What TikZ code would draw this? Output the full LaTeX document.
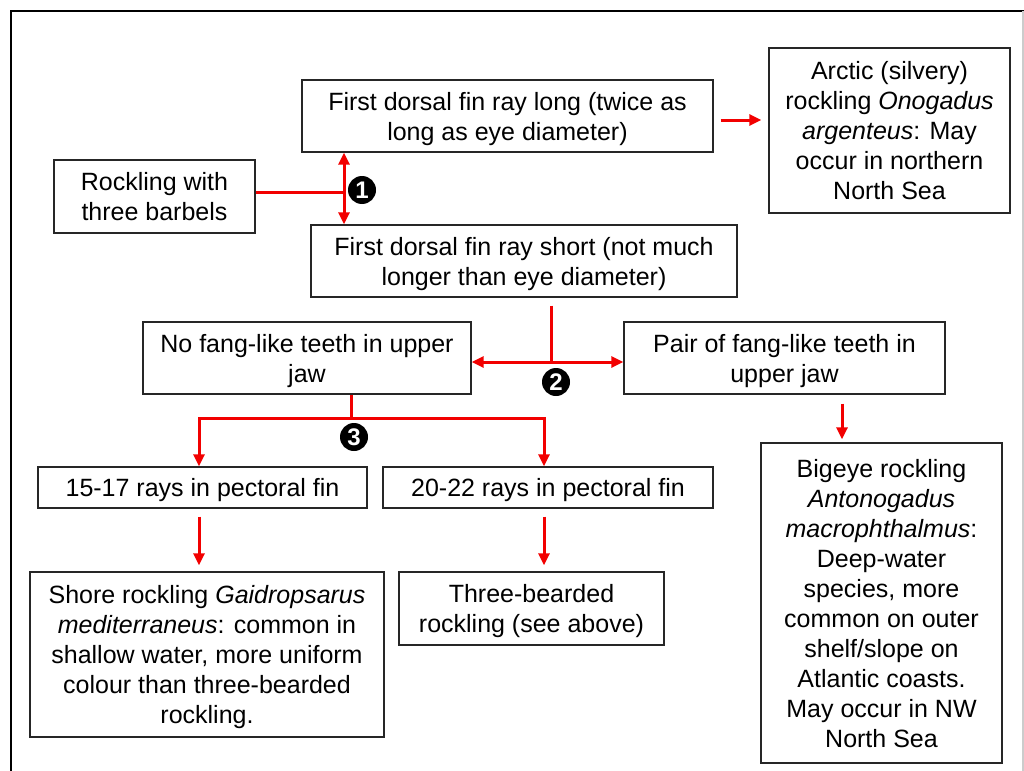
\documentclass[tikz,border=0pt]{standalone}
\usepackage{fontspec}
\setmainfont{Liberation Sans}
\usetikzlibrary{arrows.meta}

\begin{document}
\begin{tikzpicture}[x=0.5pt,y=-0.5pt,
  box/.style={draw=black!85, line width=0.7pt, align=center, inner sep=0pt, text depth=0pt, font=\fontsize{12.5}{15}\selectfont},
  link/.style={draw=red!95!black, line width=1.5pt},
  arr/.style={link, -{Triangle[length=6pt,width=5.5pt]}},
  arrboth/.style={link, {Triangle[length=6pt,width=5.5pt]}-{Triangle[length=6pt,width=5.5pt]}},
  badge/.style={circle, fill=black, text=white, inner sep=0pt, minimum size=14pt, font=\bfseries\fontsize{12}{12}\selectfont}]
\useasboundingbox (0,0) rectangle (1024,771);
% frame
\draw[line width=0.9pt] (11,771) -- (11,11) -- (1024,11);
\draw[black!20, line width=0.6pt] (1023,11) -- (1023,771);
% boxes
\node[box, minimum width=100.5pt, minimum height=36.5pt] (barbels) at (154.5,196.5){Rockling with\\three barbels};
\node[box, minimum width=205.5pt, minimum height=36pt] (longray) at (507.5,116){First dorsal fin ray long (twice as\\long as eye diameter)};
\node[box, minimum width=120.5pt, minimum height=82.5pt] (arctic) at (889.5,130.5){Arctic (silvery)\\rockling \textit{Onogadus}\\\textit{argenteus}: May\\occur in northern\\North Sea};
\node[box, minimum width=213pt, minimum height=36pt] (shortray) at (524,261){First dorsal fin ray short (not much\\longer than eye diameter)};
\node[box, minimum width=164pt, minimum height=36pt] (nofang) at (307,358){No fang-like teeth in upper\\jaw};
\node[box, minimum width=160.5pt, minimum height=36pt] (fang) at (784.5,358){Pair of fang-like teeth in\\upper jaw};
\node[box, minimum width=164.5pt, minimum height=20.5pt] (rays1517) at (202.5,487.5){15-17 rays in pectoral fin};
\node[box, minimum width=165pt, minimum height=20.5pt] (rays2022) at (548,487.5){20-22 rays in pectoral fin};
\node[box, minimum width=177pt, minimum height=82.5pt] (shore) at (207,654.5){Shore rockling \textit{Gaidropsarus}\\\textit{mediterraneus}: common in\\shallow water, more uniform\\colour than three-bearded\\rockling.};
\node[box, minimum width=132.5pt, minimum height=36.5pt] (threebeard) at (531.5,608.5){Three-bearded\\rockling (see above)};
\node[box, minimum width=120.5pt, minimum height=160pt] (bigeye) at (881.5,603){Bigeye rockling\\\textit{Antonogadus}\\\textit{macrophthalmus}:\\Deep-water\\species, more\\common on outer\\shelf/slope on\\Atlantic coasts.\\May occur in NW\\North Sea};
% junctions
\coordinate (j1) at (344,192);
\coordinate (j2) at (551,362);
\coordinate (j3) at (351,418);
\coordinate (j3l) at (199,418);
\coordinate (j3r) at (544,418);
% couplet 1
\draw[link](barbels.east |- j1) -- (j1);
\draw[arr](j1) -- (longray.south -| j1);
\draw[arr](j1) -- (shortray.north -| j1);
\draw[arr, shorten <=7pt/2, shorten >=7pt/2](longray.east |- 0,120) -- (arctic.west |- 0,120);
\node[badge] (c1) at (362,190){1};
% couplet 2
\draw[link, shorten <=4pt](shortray.south -| j2) -- (j2);
\draw[arrboth](nofang.east |- j2) -- (fang.west |- j2);
\draw[arr, shorten <=4.5pt, shorten >=1.5pt](fang.south -| 842,0) -- (bigeye.north -| 842,0);
\node[badge] (c2) at (556,382){2};
% couplet 3
\draw[link](nofang.south -| j3) -- (j3);
\draw[arr](j3) -- (j3l) -- (rays1517.north -| j3l);
\draw[arr](j3) -- (j3r) -- (rays2022.north -| j3r);
\draw[arr, shorten <=4pt, shorten >=3pt](rays1517.south -| j3l) -- (shore.north -| j3l);
\draw[arr, shorten <=4pt, shorten >=3pt](rays2022.south -| j3r) -- (threebeard.north -| j3r);
\node[badge] (c3) at (354,437){3};
\end{tikzpicture}
\end{document}
